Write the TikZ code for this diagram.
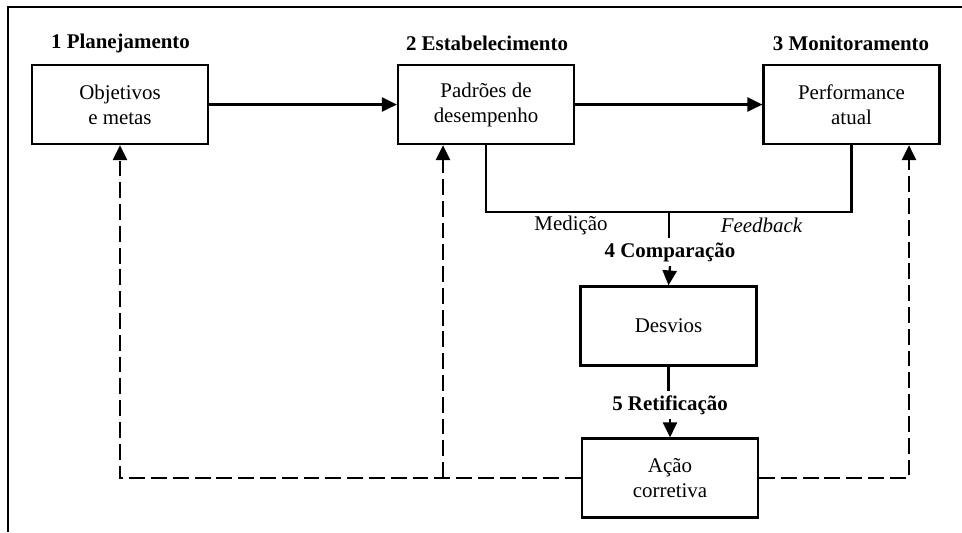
\documentclass[tikz,border=0pt]{standalone}
\usepackage{fontspec}
\setmainfont{Liberation Serif}
\usepackage{tikz}
\usetikzlibrary{arrows.meta}
\tikzstyle{every node}=[font=\fontsize{11.9}{14.2}\selectfont,align=center]
\tikzstyle{caixa}=[draw,line width=1.3pt,minimum width=3.52cm,minimum height=1.58cm,inner sep=2pt]
\tikzstyle{etapa}=[font=\fontsize{11.9}{14.2}\selectfont\bfseries,inner sep=2pt]
\tikzstyle{seta}=[-{Triangle[length=8.5pt,width=8pt]}]
\tikzstyle{tracejada}=[dash pattern=on 9pt off 3.4pt]

\begin{document}
\begin{tikzpicture}[x=0.02cm,y=-0.02cm,line width=1.3pt]
\useasboundingbox (0,0) rectangle (962,532);
% moldura
\draw (962,7)--(8,7)--(8,532);
% caixas
\node[caixa] (obj) at (120,104.5) {Objetivos\\e metas};
\node[caixa] (pad) at (486,104.5) {Padrões de\\desempenho};
\node[caixa] (perf) at (851.5,104.5) {Performance\\atual};
\node[caixa] (desv) at (668.5,326) {Desvios};
\node[caixa] (acao) at (670,478) {Ação\\corretiva};
% etapas
\node[etapa] (e1) at (120.5,43) {1 Planejamento};
\node[etapa] (e2) at (487,43) {2 Estabelecimento};
\node[etapa] (e3) at (851,43) {3 Monitoramento};
\node[etapa] (e4) at (670,252) {4 Comparação};
\node[etapa] (e5) at (670,405) {5 Retificação};
\node (med) at (571,225) {Medição};
\node (feed) at (761.5,225) {\itshape Feedback};
\coordinate (jn) at (669,212);
\coordinate (dj) at (443,478);
\coordinate (dr) at (909,478);
% ligacoes
\draw[seta] (obj)--(pad);
\draw[seta] (pad)--(perf);
\draw (pad.south)|-(jn)-|(perf.south);
\draw (jn)--(jn|-e4.north);
\draw[seta] (e4.south)--(desv.north);
\draw (desv.south)--(desv.south|-e5.north);
\draw[seta] (e5.south)--(acao.north);
\draw[seta,tracejada] (acao.west)-|(obj.south);
\draw[seta,tracejada] (dj)--(dj|-pad.south);
\draw[seta,tracejada] (acao.east)--(dr)--(dr|-perf.south);
\end{tikzpicture}
\end{document}
